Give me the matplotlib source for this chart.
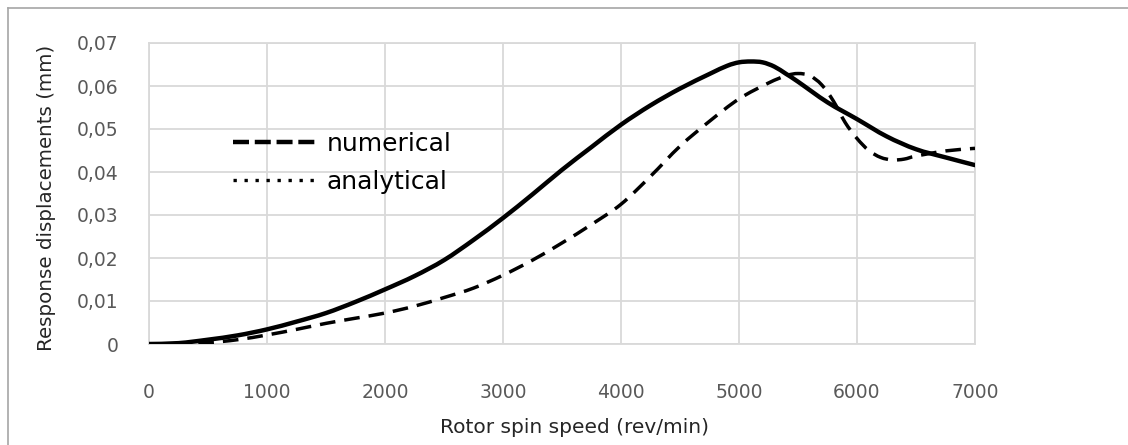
import matplotlib
matplotlib.use("Agg")
import numpy as np
import matplotlib.pyplot as plt
from matplotlib.lines import Line2D
from matplotlib.patches import PathPatch
from matplotlib.path import Path

# Data
speed_analytical = [0, 250, 500, 750, 1000, 1250, 1500, 1750, 2000, 2250, 2500,
                    2750, 3000, 3250, 3500, 3750, 4000, 4250, 4500, 4750, 4900,
                    5000, 5100, 5200, 5300, 5400, 5500, 5750, 6000, 6250, 6500,
                    6750, 7000]
disp_analytical = [0, 0.0002, 0.001, 0.002, 0.0034, 0.0052, 0.0072, 0.0098,
                   0.0127, 0.0158, 0.0195, 0.0242, 0.0293, 0.0348, 0.0405,
                   0.0458, 0.051, 0.0555, 0.0594, 0.0628, 0.0647, 0.0655,
                   0.0657, 0.0655, 0.0645, 0.0628, 0.061, 0.0562, 0.0523,
                   0.0483, 0.0453, 0.0434, 0.0416]

speed_numerical = [0, 250, 500, 750, 1000, 1250, 1500, 1750, 2000, 2250, 2500,
                   2750, 3000, 3250, 3500, 3750, 4000, 4250, 4500, 4750, 5000,
                   5250, 5400, 5500, 5600, 5700, 5800, 5900, 6000, 6100, 6200,
                   6300, 6400, 6500, 6750, 7000]
disp_numerical = [0, 0.0001, 0.0003, 0.001, 0.0021, 0.0034, 0.0048, 0.006,
                  0.0072, 0.0088, 0.0108, 0.013, 0.016, 0.0195, 0.0235, 0.0278,
                  0.0325, 0.039, 0.046, 0.0518, 0.057, 0.0607, 0.0624, 0.0629,
                  0.0624, 0.0603, 0.0565, 0.0515, 0.0478, 0.045, 0.0434, 0.0428,
                  0.043, 0.0437, 0.0449, 0.0455]

x_ticks = [0, 1000, 2000, 3000, 4000, 5000, 6000, 7000]
y_ticks = [0, 0.01, 0.02, 0.03, 0.04, 0.05, 0.06, 0.07]
y_tick_labels = ["0", "0,01", "0,02", "0,03", "0,04", "0,05", "0,06", "0,07"]
legend_labels = ["numerical", "analytical"]


def smooth_path(xs, ys):
    """Excel-style smoothed line: Catmull-Rom segments as cubic Beziers."""
    p = np.column_stack([xs, ys]).astype(float)
    verts = [p[0]]
    codes = [Path.MOVETO]
    n = len(p)
    for i in range(n - 1):
        p0 = p[i - 1] if i > 0 else p[i]
        p1, p2 = p[i], p[i + 1]
        p3 = p[i + 2] if i + 2 < n else p[i + 1]
        c1 = p1 + (p2 - p0) / 6.0
        c2 = p2 - (p3 - p1) / 6.0
        verts += [c1, c2, p2]
        codes += [Path.CURVE4] * 3
    return Path(verts, codes)


W, H = 1128, 445
fig = plt.figure(figsize=(W / 100, H / 100), dpi=100)
fig.patch.set_facecolor("white")

# outer chart-area frame: only its top and left edges fall inside the picture
frame_c = "#a6a6a6"
fig.add_artist(Line2D([7.5 / W, 1.0], [1 - 8 / H, 1 - 8 / H],
                      transform=fig.transFigure, color=frame_c, linewidth=1.2))
fig.add_artist(Line2D([7.5 / W, 7.5 / W], [0.0, 1 - 8 / H],
                      transform=fig.transFigure, color=frame_c, linewidth=1.2))

left, right = 149 / W, 975 / W
bottom, top = 1 - 344 / H, 1 - 43 / H
ax = fig.add_axes([left, bottom, right - left, top - bottom])

grid_c = "#d9d9d9"
ax.add_patch(PathPatch(smooth_path(speed_analytical, disp_analytical),
                       fill=False, edgecolor="black", linewidth=3.2,
                       capstyle="round", joinstyle="round", zorder=3))
ax.add_patch(PathPatch(smooth_path(speed_numerical, disp_numerical),
                       fill=False, edgecolor="black", linewidth=2.5,
                       linestyle=(0, (4.5, 2.6)), zorder=3))

ax.set_xlim(0, 7000)
ax.set_ylim(0, 0.07)
ax.set_xticks(x_ticks)
ax.set_xticklabels([str(v) for v in x_ticks])
ax.set_yticks(y_ticks)
ax.set_yticklabels(y_tick_labels)
ax.grid(True, color=grid_c, linewidth=1.3, zorder=0)
ax.set_axisbelow(True)
for s in ax.spines.values():
    s.set_color(grid_c)
    s.set_linewidth(1.3)

ax.tick_params(axis="x", length=0, pad=28, labelsize=13.5, labelcolor="#595959")
ax.tick_params(axis="y", length=0, pad=22, labelsize=13.5, labelcolor="#595959")

ax.set_xlabel("Rotor spin speed (rev/min)", fontsize=14.5, color="#262626")
ax.set_ylabel("Response displacements (mm)", fontsize=14.3, color="#262626")
ax.xaxis.set_label_coords((574.5 - 149) / 826, (344 - 418) / 301)
ax.yaxis.set_label_coords((56 - 149) / 826, (344 - 198) / 301)

handles = [
    Line2D([], [], color="black", linewidth=3.2, linestyle=(0, (3.6, 1.3))),
    Line2D([], [], color="black", linewidth=2.4, linestyle=(0, (1, 2.3))),
]
leg = ax.legend(handles, legend_labels, loc="upper left",
                bbox_to_anchor=((233 - 149) / 826 - 0.012, (344 - 122) / 301),
                frameon=False, fontsize=18, handlelength=3.4,
                handletextpad=0.35, labelspacing=0.55, borderaxespad=0)
for t in leg.get_texts():
    t.set_color("black")

fig.savefig("out.png", dpi=100, facecolor="white")
